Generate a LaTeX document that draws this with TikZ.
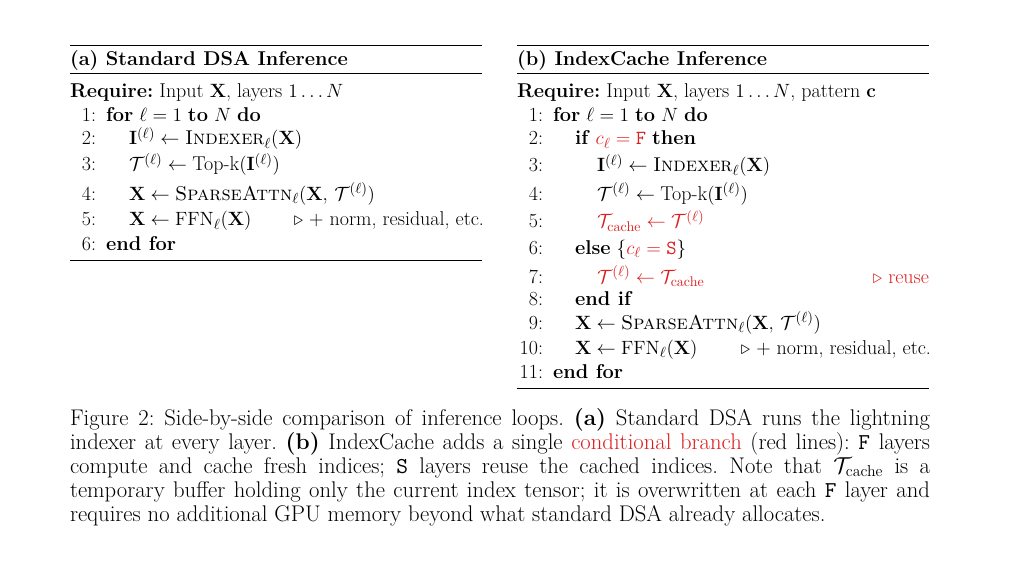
\documentclass[tikz,border=0pt]{standalone}
\usepackage{amsmath,amssymb}
\usepackage{xcolor}
\definecolor{algred}{RGB}{220,30,30}
\frenchspacing
\begin{document}
\begin{tikzpicture}[x=0.75pt,y=-0.75pt,
  every node/.style={inner sep=0pt,outer sep=0pt,font=\fontsize{15}{18}\selectfont},
  num/.style={anchor=base east},
  code/.style={anchor=base west},
  rule/.style={line width=0.6pt},
  capline/.style={anchor=base west,font=\fontsize{17}{20}\selectfont}]
\useasboundingbox (0,0) rectangle (1016,577);
% ---------- left panel
\draw[rule] (70,45) -- (482,45);
\node[code] (ta) at (70,66) {\textbf{(a) Standard DSA Inference}};
\draw[rule] (70,73) -- (482,73);
\node[code] (ra) at (70,98) {\textbf{Require:} Input $\mathbf{X}$, layers $1\ldots N$};
\node[num] (a1n) at (96,122) {1:}; \node[code] (a1) at (106,122) {\textbf{for} $\ell=1$ \textbf{to} $N$ \textbf{do}};
\node[num] (a2n) at (96,145) {2:}; \node[code] (a2) at (129,145) {$\mathbf{I}^{(\ell)}\leftarrow\textsc{Indexer}_\ell(\mathbf{X})$};
\node[num] (a3n) at (96,171) {3:}; \node[code] (a3) at (129,171) {$\mathcal{T}^{(\ell)}\leftarrow\text{Top-k}(\mathbf{I}^{(\ell)})$};
\node[num] (a4n) at (96,200) {4:}; \node[code] (a4) at (129,200) {$\mathbf{X}\leftarrow\textsc{SparseAttn}_\ell(\mathbf{X},\,\mathcal{T}^{(\ell)})$};
\node[num] (a5n) at (96,226) {5:}; \node[code] (a5) at (129,226) {$\mathbf{X}\leftarrow\mathrm{FFN}_\ell(\mathbf{X})$};
\node[anchor=base east] (a5c) at (484,226) {$\triangleright$ + norm, residual, etc.};
\node[num] (a6n) at (96,250) {6:}; \node[code] (a6) at (106,250) {\textbf{end for}};
\draw[rule] (70,260) -- (482,260);
% ---------- right panel
\draw[rule] (517,45) -- (929,45);
\node[code] (tb) at (517,66) {\textbf{(b) IndexCache Inference}};
\draw[rule] (517,73) -- (929,73);
\node[code] (rb) at (517,98) {\textbf{Require:} Input $\mathbf{X}$, layers $1\ldots N$, pattern $\mathbf{c}$};
\node[num] (b1n) at (543,122) {1:}; \node[code] (b1) at (553,122) {\textbf{for} $\ell=1$ \textbf{to} $N$ \textbf{do}};
\node[num] (b2n) at (543,145) {2:}; \node[code] (b2) at (575,145) {\textbf{if} {\color{algred}$c_\ell=\texttt{F}$} \textbf{then}};
\node[num] (b3n) at (543,172) {3:}; \node[code] (b3) at (597,172) {$\mathbf{I}^{(\ell)}\leftarrow\textsc{Indexer}_\ell(\mathbf{X})$};
\node[num] (b4n) at (543,200) {4:}; \node[code] (b4) at (597,200) {$\mathcal{T}^{(\ell)}\leftarrow\text{Top-k}(\mathbf{I}^{(\ell)})$};
\node[num] (b5n) at (543,228) {5:}; \node[code,text=algred] (b5) at (597,228) {$\mathcal{T}_{\text{cache}}\leftarrow\mathcal{T}^{(\ell)}$};
\node[num] (b6n) at (543,254) {6:}; \node[code] (b6) at (575,254) {\textbf{else} $\{${\color{algred}$c_\ell=\texttt{S}$}$\}$};
\node[num] (b7n) at (543,283) {7:}; \node[code,text=algred] (b7) at (597,283) {$\mathcal{T}^{(\ell)}\leftarrow\mathcal{T}_{\text{cache}}$};
\node[anchor=base east,text=algred] (b7c) at (929,283) {$\triangleright$ reuse};
\node[num] (b8n) at (543,305) {8:}; \node[code] (b8) at (575,305) {\textbf{end if}};
\node[num] (b9n) at (543,329) {9:}; \node[code] (b9) at (575,329) {$\mathbf{X}\leftarrow\textsc{SparseAttn}_\ell(\mathbf{X},\,\mathcal{T}^{(\ell)})$};
\node[num] (b10n) at (543,354) {10:}; \node[code] (b10) at (575,354) {$\mathbf{X}\leftarrow\mathrm{FFN}_\ell(\mathbf{X})$};
\node[anchor=base east] (b10c) at (931,354) {$\triangleright$ + norm, residual, etc.};
\node[num] (b11n) at (543,378) {11:}; \node[code] (b11) at (553,378) {\textbf{end for}};
\draw[rule] (517,388) -- (929,388);
% ---------- caption
\node[capline] (c1) at (70,425) {\makebox[645pt][s]{Figure 2: Side-by-side comparison of inference loops. \textbf{(a)} Standard DSA runs the lightning}};
\node[capline] (c2) at (70,449) {\makebox[645pt][s]{indexer at every layer. \textbf{(b)} IndexCache adds a single {\color{algred}conditional branch} (red lines): \texttt{F} layers}};
\node[capline] (c3) at (70,473) {\makebox[645pt][s]{compute and cache fresh indices; \texttt{S} layers reuse the cached indices. Note that $\mathcal{T}_{\text{cache}}$ is a}};
\node[capline] (c4) at (70,497) {\makebox[645pt][s]{temporary buffer holding only the current index tensor; it is overwritten at each \texttt{F} layer and}};
\node[capline] (c5) at (70,521) {requires no additional GPU memory beyond what standard DSA already allocates.};
\end{tikzpicture}
\end{document}
